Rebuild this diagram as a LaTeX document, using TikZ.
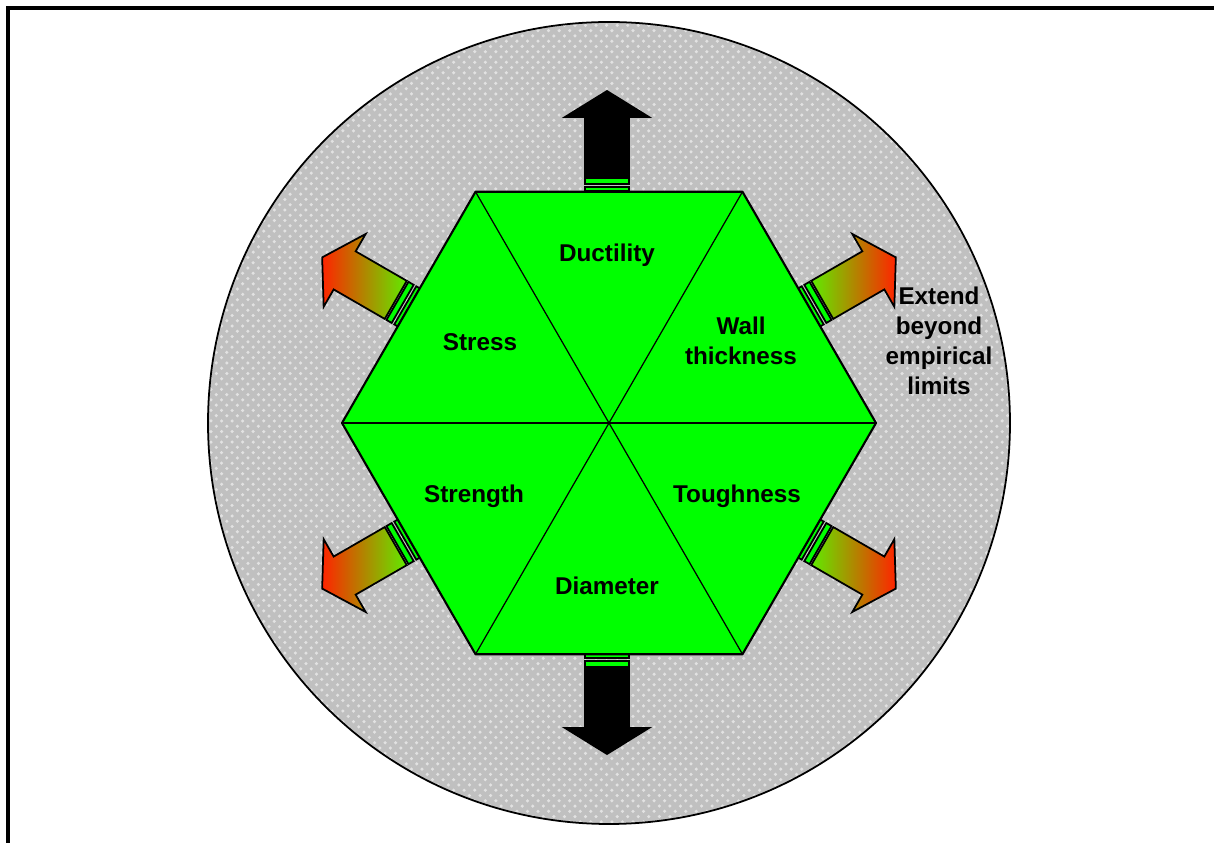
\documentclass[tikz,border=0pt]{standalone}
\usepackage{fontspec}
\setmainfont{Liberation Sans}
\usetikzlibrary{patterns,calc}

\definecolor{discgray}{RGB}{192,192,192}
\definecolor{dotgray}{RGB}{226,226,226}
\definecolor{hexgreen}{RGB}{0,255,0}
\definecolor{tailgreen}{RGB}{96,235,0}
\definecolor{midolive}{RGB}{196,196,0}
\definecolor{tipred}{RGB}{255,36,0}

\tikzset{
  cellname/.style={font=\fontsize{6.9}{8.5}\selectfont\bfseries, align=center},
  stripe/.style={draw=black, line width=0.5pt, fill=hexgreen},
  solidbody/.style={draw=black, line width=0.5pt, fill=black},
  rightbody/.style={draw=black, line width=0.5pt, left color=tailgreen, middle color=midolive, right color=tipred},
  leftbody/.style={draw=black, line width=0.5pt, left color=tipred, middle color=midolive, right color=tailgreen},
  pics/stripedarrow/.style={code={
      \draw[stripe] (0,-22) rectangle (4,22);
      \draw[stripe] (7,-22) rectangle (13,22);
      \draw[#1] (15,-22) -- (74,-22) -- (74,-42) -- (100,0) -- (74,42) -- (74,22) -- (15,22) -- cycle;
  }}
}

\begin{document}
\begin{tikzpicture}[x=0.01cm, y=-0.01cm]
        \useasboundingbox (0,0) rectangle (1214,843);

        % Frame
        \draw[line width=1pt] (8,843) |- (1214,8);

        % Disc
        \coordinate (hexc) at (609,423);
        \fill[discgray] (hexc) circle (401);
        \fill[pattern=crosshatch dots, pattern color=dotgray] (hexc) circle (401);
        \draw[line width=0.5pt] (hexc) circle (401);

        % Hexagon corners
        \foreach \k in {0,...,5}
            \coordinate (v\k) at ([shift={(\k*60:267)}]hexc);

        % Arrows
        \pic[rotate=90] at (607,191) {stripedarrow=solidbody};
        \pic[rotate=-90] at (607,654) {stripedarrow=solidbody};
        \pic[rotate=30] at ($(v5)!0.5!(v0)$) {stripedarrow=rightbody};
        \pic[rotate=150] at ($(v3)!0.5!(v4)$) {stripedarrow=leftbody};
        \pic[rotate=210] at ($(v2)!0.5!(v3)$) {stripedarrow=leftbody};
        \pic[rotate=-30] at ($(v0)!0.5!(v1)$) {stripedarrow=rightbody};

        % Hexagon
        \draw[fill=hexgreen, line width=0.6pt, line join=round]
            (v0) -- (v1) -- (v2) -- (v3) -- (v4) -- (v5) -- cycle;
        \foreach \k in {0,...,5}
            \draw[line width=0.35pt] (hexc) -- (v\k);

        % Labels
        \node[cellname] (ductility) at (607,255) {Ductility};
        \node[cellname] (stress) at (480,342) {Stress};
        \node[cellname] (wall) at (741,341) {Wall\\thickness};
        \node[cellname] (strength) at (474,496) {Strength};
        \node[cellname] (toughness) at (737,496) {Toughness};
        \node[cellname] (diameter) at (607,586) {Diameter};
        \node[cellname] (extend) at (939,341) {Extend\\beyond\\empirical\\limits};
\end{tikzpicture}
\end{document}
